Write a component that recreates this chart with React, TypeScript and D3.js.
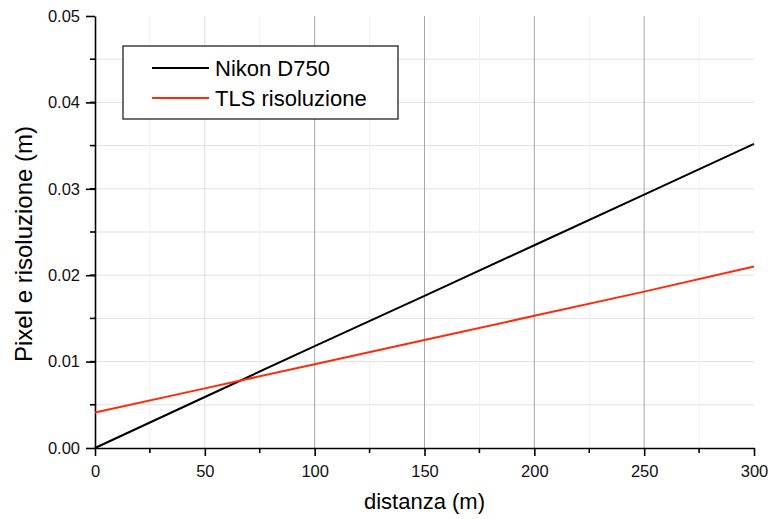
import React, { useEffect, useRef } from "react";
import * as d3 from "d3";

const width = 772,
  height = 519;
const margin = { top: 16, right: 18, bottom: 71, left: 95 };

// valori
const distanze = [0, 50, 100, 150, 200, 250, 300];
const nikonD750 = [0, 0.0059, 0.0118, 0.0176, 0.02347, 0.02933, 0.0352];
const tlsRisoluzione = [0.0041, 0.0069, 0.0097, 0.0125, 0.0153, 0.0181, 0.021];
const xTicks = [0, 50, 100, 150, 200, 250, 300];
const yTicks = [0, 0.01, 0.02, 0.03, 0.04, 0.05];
const seriesNames = ["Nikon D750", "TLS risoluzione"];
const seriesColors = ["#000000", "#ff2a0a"];

const font = "'Liberation Sans', Arial, sans-serif";

function App() {
  const svgRef = useRef<SVGSVGElement>(null);

  useEffect(() => {
    const svg = d3.select(svgRef.current);
    svg.selectAll("*").remove();

    const w = width - margin.left - margin.right;
    const h = height - margin.top - margin.bottom;

    const x = d3.scaleLinear().domain([0, 300]).range([0, w]);
    const y = d3.scaleLinear().domain([0, 0.05]).range([h, 0]);

    const g = svg
      .append("g")
      .attr("transform", `translate(${margin.left},${margin.top})`);

    // griglia
    const minorX = d3.range(25, 300, 50);
    const minorY = d3.range(0.005, 0.05, 0.005);

    g.append("g")
      .selectAll("line")
      .data(minorY)
      .enter()
      .append("line")
      .attr("x1", 0)
      .attr("x2", w)
      .attr("y1", d => y(d))
      .attr("y2", d => y(d))
      .attr("stroke", "#e2e2e2")
      .attr("stroke-width", 1);

    g.append("g")
      .selectAll("line")
      .data(minorX)
      .enter()
      .append("line")
      .attr("x1", d => x(d))
      .attr("x2", d => x(d))
      .attr("y1", 0)
      .attr("y2", h)
      .attr("stroke", "#f0f0f0")
      .attr("stroke-width", 1);

    g.append("g")
      .selectAll("line")
      .data(xTicks.filter(d => d > 0 && d < 300))
      .enter()
      .append("line")
      .attr("x1", d => x(d))
      .attr("x2", d => x(d))
      .attr("y1", 0)
      .attr("y2", h)
      .attr("stroke", d => (d === 50 ? "#dcdcdc" : "#a8a8a8"))
      .attr("stroke-width", 1);

    // assi
    const xAxis = g
      .append("g")
      .attr("transform", `translate(0,${h})`)
      .call(
        d3
          .axisBottom(x)
          .tickValues(xTicks)
          .tickSize(8)
          .tickPadding(9)
          .tickSizeOuter(0)
      );
    xAxis
      .append("g")
      .selectAll("line")
      .data(minorX)
      .enter()
      .append("line")
      .attr("x1", d => x(d))
      .attr("x2", d => x(d))
      .attr("y1", 0)
      .attr("y2", 5)
      .attr("stroke", "#000");

    const yAxis = g.append("g").call(
      d3
        .axisLeft(y)
        .tickValues(yTicks)
        .tickFormat(d3.format(".2f"))
        .tickSize(9)
        .tickPadding(6)
        .tickSizeOuter(0)
    );
    yAxis
      .append("g")
      .selectAll("line")
      .data(minorY)
      .enter()
      .append("line")
      .attr("x1", 0)
      .attr("x2", -5)
      .attr("y1", d => y(d))
      .attr("y2", d => y(d))
      .attr("stroke", "#000");

    [xAxis, yAxis].forEach(a => {
      a.selectAll("path, line").attr("stroke", "#000").attr("stroke-width", 1.6);
      a.selectAll("text")
        .attr("font-family", font)
        .attr("font-size", 16.5)
        .attr("fill", "#111");
    });

    // linee
    const line = d3
      .line<number>()
      .x((d, i) => x(distanze[i]))
      .y(d => y(d));

    [nikonD750, tlsRisoluzione].forEach((s, i) => {
      g.append("path")
        .datum(s)
        .attr("fill", "none")
        .attr("stroke", seriesColors[i])
        .attr("stroke-width", 2)
        .attr("d", line);
    });

    // legenda
    const leg = svg.append("g").attr("transform", "translate(123,46)");
    leg
      .append("rect")
      .attr("width", 275)
      .attr("height", 73)
      .attr("fill", "#fff")
      .attr("stroke", "#222")
      .attr("stroke-width", 1.3);
    seriesNames.forEach((name, i) => {
      const yy = 22 + i * 30;
      leg
        .append("line")
        .attr("x1", 29)
        .attr("x2", 86)
        .attr("y1", yy)
        .attr("y2", yy)
        .attr("stroke", seriesColors[i])
        .attr("stroke-width", 2);
      leg
        .append("text")
        .attr("x", 92)
        .attr("y", yy + 7.5)
        .attr("font-family", font)
        .attr("font-size", 22)
        .attr("fill", "#000")
        .text(name);
    });

    // titoli assi
    svg
      .append("text")
      .attr("x", margin.left + w / 2)
      .attr("y", 509)
      .attr("text-anchor", "middle")
      .attr("font-family", font)
      .attr("font-size", 22)
      .attr("fill", "#000")
      .text("distanza (m)");

    svg
      .append("text")
      .attr("transform", "translate(32,244) rotate(-90)")
      .attr("text-anchor", "middle")
      .attr("font-family", font)
      .attr("font-size", 24)
      .attr("fill", "#000")
      .text("Pixel e risoluzione (m)");
  }, []);

  return (
    <svg
      ref={svgRef}
      width={width}
      height={height}
      style={{ position: "absolute", left: 0, top: 0, background: "#fff" }}
    />
  );
}

export default App;
